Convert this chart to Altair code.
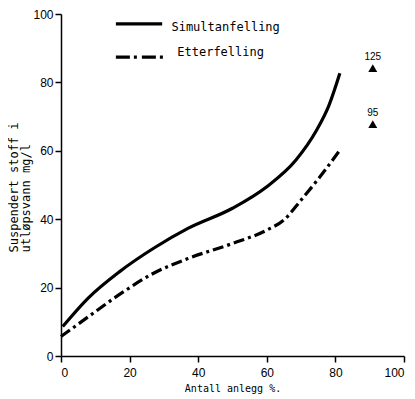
import altair as alt
import pandas as pd

# Simultanfelling (solid)
sim_x = [0.5, 8, 17, 27, 37, 50, 60, 68.5, 74.5, 78, 81.3]
sim_y = [8.6, 17, 24.6, 31.5, 37.3, 43.2, 49.5, 57.3, 66, 73, 82.7]
# Etterfelling (dash-dot)
ett_x = [0, 8, 17.5, 27, 37, 50, 60, 65, 70, 75.5, 81.3]
ett_y = [5.7, 11.5, 18.3, 24.2, 28.5, 32.9, 36.8, 39.8, 45.6, 52.4, 60.2]

# single points (triangles) with labels
tri_x = [90.9, 90.9]
tri_y = [84.2, 67.8]
tri_lab = ["125", "95"]

# legend
leg_names = ["Simultanfelling", "Etterfelling"]
leg_x1 = [16.0, 16.0]
leg_x2 = [29.5, 30.1]
leg_y = [97.1, 87.4]
leg_tx = [32.2, 33.9]
leg_ty = [96.2, 89.0]

ticks = [0, 20, 40, 60, 80, 100]

MONO = "DejaVu Sans Mono"
SANS = "Liberation Sans"

xs = alt.Scale(domain=[0, 100], nice=False)
ys = alt.Scale(domain=[0, 100], nice=False)

xaxis = alt.Axis(values=ticks, title="Antall anlegg %.", grid=False,
                 titleFont=MONO, titleFontSize=10, titleFontWeight="normal",
                 titleColor="black", titleY=35, titleBaseline="alphabetic",
                 labelFont=SANS, labelFontSize=12, labelColor="black",
                 labelPadding=5, tickSize=6, tickWidth=1.5, tickColor="black",
                 domainColor="black", domainWidth=1.5)
yaxis = alt.Axis(values=ticks, title=["Suspendert stoff i", "utløpsvann mg/l"],
                 grid=False, titleFont=MONO, titleFontSize=12,
                 titleFontWeight="normal", titleColor="black",
                 titleAngle=-90, titleAlign="left", titleBaseline="alphabetic",
                 titleX=-44, titleY=238, titleLineHeight=12.5,
                 labelFont=SANS, labelFontSize=12, labelColor="black",
                 labelPadding=2, tickSize=6, tickWidth=1.5, tickColor="black",
                 domainColor="black", domainWidth=1.5)

sim_df = pd.DataFrame({"x": sim_x, "y": sim_y})
ett_df = pd.DataFrame({"x": ett_x, "y": ett_y})
tri_df = pd.DataFrame({"x": tri_x, "y": tri_y, "lab": tri_lab})
leg_df = pd.DataFrame({"name": leg_names, "x1": leg_x1, "x2": leg_x2,
                       "y": leg_y, "tx": leg_tx, "ty": leg_ty})

sim = alt.Chart(sim_df).mark_line(interpolate="monotone", color="black",
                                  strokeWidth=3.2).encode(
    x=alt.X("x:Q", scale=xs, axis=xaxis),
    y=alt.Y("y:Q", scale=ys, axis=yaxis))

ett = alt.Chart(ett_df).mark_line(interpolate="monotone", color="black",
                                  strokeWidth=3.2, strokeDash=[11, 4, 3, 4]).encode(
    x=alt.X("x:Q", scale=xs), y=alt.Y("y:Q", scale=ys))

tri = alt.Chart(tri_df).mark_point(shape="triangle-up", filled=True,
                                   color="black", opacity=1, size=80).encode(
    x=alt.X("x:Q", scale=xs), y=alt.Y("y:Q", scale=ys))

tri_txt = alt.Chart(tri_df).mark_text(font=SANS, fontSize=10, color="black",
                                      dy=-11).encode(
    x=alt.X("x:Q", scale=xs), y=alt.Y("y:Q", scale=ys), text="lab:N")

leg1 = alt.Chart(leg_df.iloc[[0]]).mark_rule(color="black", strokeWidth=3.2).encode(
    x=alt.X("x1:Q", scale=xs), x2="x2:Q", y=alt.Y("y:Q", scale=ys))
leg2 = alt.Chart(leg_df.iloc[[1]]).mark_rule(color="black", strokeWidth=3.2,
                                             strokeDash=[14, 4, 3, 5]).encode(
    x=alt.X("x1:Q", scale=xs), x2="x2:Q", y=alt.Y("y:Q", scale=ys))
leg_txt = alt.Chart(leg_df).mark_text(font=MONO, fontSize=12, color="black",
                                      align="left", baseline="middle").encode(
    x=alt.X("tx:Q", scale=xs), y=alt.Y("ty:Q", scale=ys), text="name:N")

chart = alt.layer(sim, ett, tri, tri_txt, leg1, leg2, leg_txt).properties(
    width=343, height=342,
    autosize=alt.AutoSizeParams(type="none"),
    padding={"left": 53, "top": 6, "right": 3, "bottom": 40},
    background="white",
).configure_view(stroke=None)

chart.save("out.html", embed_options={"renderer": "svg", "actions": False})
